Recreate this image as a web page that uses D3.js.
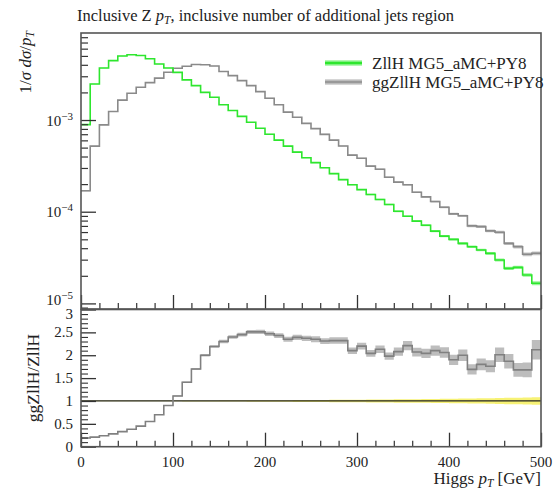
<!DOCTYPE html>
<html>
<head>
<meta charset="utf-8">
<script src="https://cdn.jsdelivr.net/npm/d3@7"></script>
<style>
  html, body { margin: 0; padding: 0; background: #fff; }
  svg text { font-family: "Liberation Serif", "DejaVu Serif", serif; fill: #222; }
</style>
</head>
<body>
<svg id="chart" width="556" height="490"></svg>
<script>
// Bin edges of Higgs pT histogram [GeV]
const binEdges = [0, 10, 20, 30, 40, 50, 60, 70, 80, 90, 100, 110, 120, 130, 140, 150, 160, 170, 180, 190,
  200, 210, 220, 230, 240, 250, 260, 270, 280, 290, 300, 310, 320, 330, 340, 350, 360, 370, 380, 390,
  400, 410, 420, 430, 440, 450, 460, 470, 480, 490, 500];

// Normalised distributions 1/sigma dsigma/dpT
const zllh = [8.9e-4, 2.47e-3, 3.69e-3, 4.44e-3, 4.99e-3, 5.15e-3, 5.06e-3, 4.66e-3, 4.08e-3, 3.69e-3,
  3.31e-3, 2.74e-3, 2.37e-3, 2.00e-3, 1.77e-3, 1.47e-3, 1.27e-3, 1.096e-3, 9.44e-4, 8.13e-4,
  7.00e-4, 6.03e-4, 5.19e-4, 4.47e-4, 3.88e-4, 3.43e-4, 3.02e-4, 2.60e-4, 2.24e-4, 1.97e-4,
  1.74e-4, 1.54e-4, 1.36e-4, 1.20e-4, 1.01e-4, 8.93e-5, 7.89e-5, 7.13e-5, 6.14e-5, 5.42e-5,
  4.99e-5, 4.51e-5, 4.15e-5, 3.82e-5, 3.51e-5, 2.97e-5, 2.41e-5, 2.47e-5, 2.04e-5, 1.66e-5];

const ggzllh = [1.69e-4, 5.19e-4, 8.86e-4, 1.24e-3, 1.65e-3, 1.96e-3, 2.28e-3, 2.56e-3, 2.86e-3, 3.32e-3,
  3.67e-3, 3.86e-3, 4.03e-3, 4.00e-3, 3.88e-3, 3.38e-3, 3.05e-3, 2.69e-3, 2.37e-3, 2.04e-3,
  1.73e-3, 1.47e-3, 1.22e-3, 1.07e-3, 9.20e-4, 8.06e-4, 6.98e-4, 6.03e-4, 5.20e-4, 4.14e-4,
  3.83e-4, 3.14e-4, 2.90e-4, 2.38e-4, 2.10e-4, 1.97e-4, 1.63e-4, 1.45e-4, 1.29e-4, 1.12e-4,
  9.48e-5, 9.02e-5, 7.01e-5, 6.88e-5, 6.18e-5, 5.97e-5, 4.51e-5, 4.15e-5, 3.43e-5, 3.52e-5];

// Ratio ggZllH / ZllH
const ratio = [0.19, 0.21, 0.24, 0.28, 0.33, 0.38, 0.45, 0.55, 0.70, 0.90,
  1.11, 1.41, 1.70, 2.00, 2.19, 2.30, 2.40, 2.45, 2.51, 2.51,
  2.47, 2.43, 2.35, 2.39, 2.37, 2.35, 2.31, 2.32, 2.32, 2.10,
  2.20, 2.04, 2.13, 1.98, 2.08, 2.21, 2.07, 2.04, 2.10, 2.06,
  1.90, 2.00, 1.69, 1.80, 1.76, 2.01, 1.87, 1.68, 1.68, 2.12];

// Relative statistical uncertainties (fraction of bin content)
const zllhRelErr = [0.004, 0.003, 0.003, 0.003, 0.003, 0.003, 0.003, 0.003, 0.003, 0.003,
  0.003, 0.004, 0.004, 0.004, 0.004, 0.005, 0.005, 0.005, 0.006, 0.006,
  0.006, 0.007, 0.007, 0.008, 0.008, 0.009, 0.009, 0.010, 0.010, 0.011,
  0.011, 0.012, 0.012, 0.013, 0.014, 0.014, 0.015, 0.016, 0.017, 0.018,
  0.019, 0.020, 0.021, 0.022, 0.023, 0.025, 0.027, 0.028, 0.030, 0.032];
const ggRelErr = [0.010, 0.006, 0.005, 0.004, 0.004, 0.004, 0.004, 0.004, 0.004, 0.004,
  0.004, 0.004, 0.004, 0.004, 0.004, 0.005, 0.005, 0.005, 0.005, 0.006,
  0.006, 0.006, 0.007, 0.007, 0.007, 0.008, 0.008, 0.009, 0.009, 0.010,
  0.010, 0.011, 0.012, 0.012, 0.013, 0.014, 0.014, 0.015, 0.016, 0.017,
  0.018, 0.019, 0.021, 0.022, 0.023, 0.024, 0.026, 0.028, 0.030, 0.031];

const xTicksMajor = [0, 100, 200, 300, 400, 500];
const xTicksMinor = [20, 40, 60, 80, 120, 140, 160, 180, 220, 240, 260, 280, 320, 340, 360, 380, 420, 440, 460, 480];
const logMajor = [1e-5, 1e-4, 1e-3];
const logMajorLabels = ["\u22125", "\u22124", "\u22123"];
const ratioTicks = [0, 0.5, 1, 1.5, 2, 2.5, 3];
const ratioTickLabels = ["0", "0.5", "1", "1.5", "2", "2.5", "3"];

const svg = d3.select("#chart");
const L = 81, R = 541;
const topY0 = 33, topY1 = 309;
const ratY0 = 309.5, ratY1 = 446.7;

const x = d3.scaleLinear().domain([0, 500]).range([L, R]);
const yTop = d3.scaleLog().domain([Math.pow(10, -5.061), Math.pow(10, -2.051)]).range([topY1, topY0]);
const yRat = d3.scaleLinear().domain([0, 3]).range([ratY1, ratY0]);

const frameColor = "#555";
const tickFont = 15;

// step-curve helpers
function stepPoints(vals) {
  const pts = vals.map((v, i) => ({ x: binEdges[i], v: v, i: i }));
  pts.push({ x: binEdges[vals.length], v: vals[vals.length - 1], i: vals.length - 1 });
  return pts;
}

// clip paths for panels
const defs = svg.append("defs");
defs.append("clipPath").attr("id", "clipTop").append("rect")
  .attr("x", L).attr("y", topY0).attr("width", R - L).attr("height", topY1 - topY0);
defs.append("clipPath").attr("id", "clipRat").append("rect")
  .attr("x", L).attr("y", ratY0).attr("width", R - L).attr("height", ratY1 - ratY0);

// ---------- Top panel ----------
const gTop = svg.append("g").attr("clip-path", "url(#clipTop)");

const series = [
  { vals: ggzllh, err: ggRelErr, line: "#8a8a8a", band: "#c4c4c4" },
  { vals: zllh, err: zllhRelErr, line: "#2ee62e", band: "#9af59a" }
];

series.forEach(s => {
  const pts = stepPoints(s.vals);
  gTop.append("path")
    .attr("d", d3.area().curve(d3.curveStepAfter)
      .x(d => x(d.x))
      .y0(d => yTop(d.v * (1 - 1.5 * s.err[d.i])))
      .y1(d => yTop(d.v * (1 + 1.5 * s.err[d.i])))(pts))
    .attr("fill", s.band).attr("stroke", "none");
  gTop.append("path")
    .attr("d", d3.line().curve(d3.curveStepAfter).x(d => x(d.x)).y(d => yTop(d.v))(pts))
    .attr("fill", "none").attr("stroke", s.line).attr("stroke-width", 1.6);
});

// left axis ticks (log)
const logMinor = [];
[1e-6, 1e-5, 1e-4, 1e-3].forEach(dec => {
  for (let k = 2; k <= 9; k++) {
    const v = k * dec;
    if (v > yTop.domain()[0] && v < yTop.domain()[1]) logMinor.push(v);
  }
});
svg.append("g").attr("transform", `translate(${L},0)`)
  .call(d3.axisRight(yTop).tickValues(logMinor).tickSize(7).tickFormat(""))
  .call(g => g.select(".domain").remove())
  .selectAll("line").attr("stroke", "#333").attr("stroke-width", 1.2);
svg.append("g").attr("transform", `translate(${L},0)`)
  .call(d3.axisRight(yTop).tickValues(logMajor).tickSize(15).tickFormat(""))
  .call(g => g.select(".domain").remove())
  .selectAll("line").attr("stroke", "#333").attr("stroke-width", 1.3);

// log tick labels 10^n (lowest one sits just above the panel edge)
logMajor.forEach((v, i) => {
  const base = i === 0 ? yTop(v) + 1.5 : yTop(v) + 5.5;
  const t = svg.append("text").attr("x", 73).attr("y", base)
    .attr("text-anchor", "end").attr("font-size", tickFont);
  t.append("tspan").text("10");
  t.append("tspan").attr("dy", -6).attr("font-size", 11).text(logMajorLabels[i]);
});

// bottom ticks of top panel
svg.append("g").attr("transform", `translate(0,${topY1})`)
  .call(d3.axisTop(x).tickValues(xTicksMinor).tickSize(6).tickFormat(""))
  .call(g => g.select(".domain").remove())
  .selectAll("line").attr("stroke", "#333").attr("stroke-width", 1.2);
svg.append("g").attr("transform", `translate(0,${topY1})`)
  .call(d3.axisTop(x).tickValues(xTicksMajor).tickSize(14).tickFormat(""))
  .call(g => g.select(".domain").remove())
  .selectAll("line").attr("stroke", "#333").attr("stroke-width", 1.3);

// top frame
svg.append("rect").attr("x", L).attr("y", topY0).attr("width", R - L).attr("height", topY1 - topY0)
  .attr("fill", "none").attr("stroke", frameColor).attr("stroke-width", 1.6);

// legend
const legend = [
  { label: "ZllH MG5_aMC+PY8", line: "#2ee62e", band: "#9af59a", y: 63 },
  { label: "ggZllH MG5_aMC+PY8", line: "#999999", band: "#c8c8c8", y: 82 }
];
legend.forEach(d => {
  svg.append("line").attr("x1", 325).attr("x2", 362).attr("y1", d.y).attr("y2", d.y)
    .attr("stroke", d.band).attr("stroke-width", 5.5);
  svg.append("line").attr("x1", 325).attr("x2", 362).attr("y1", d.y).attr("y2", d.y)
    .attr("stroke", d.line).attr("stroke-width", 2.5);
  svg.append("text").attr("x", 372).attr("y", d.y + 5.5).attr("font-size", 17).text(d.label);
});

// ---------- Ratio panel ----------
const gRat = svg.append("g").attr("clip-path", "url(#clipRat)");
const ones = zllh.map(() => 1);
const ratPtsRef = stepPoints(ones);
gRat.append("path")
  .attr("d", d3.area().curve(d3.curveStepAfter)
    .x(d => x(d.x))
    .y0(d => yRat(1 - 2.6 * zllhRelErr[d.i]))
    .y1(d => yRat(1 + 2.6 * zllhRelErr[d.i]))(ratPtsRef))
  .attr("fill", "#f6f166").attr("opacity", 0.9).attr("stroke", "none");
gRat.append("path")
  .attr("d", d3.line().curve(d3.curveStepAfter).x(d => x(d.x)).y(d => yRat(d.v))(ratPtsRef))
  .attr("fill", "none").attr("stroke", "#222").attr("stroke-width", 1.3);

const ratPts = stepPoints(ratio);
gRat.append("path")
  .attr("d", d3.area().curve(d3.curveStepAfter)
    .x(d => x(d.x))
    .y0(d => yRat(d.v * (1 - 1.6 * (ggRelErr[d.i] + zllhRelErr[d.i]))))
    .y1(d => yRat(d.v * (1 + 1.6 * (ggRelErr[d.i] + zllhRelErr[d.i]))))(ratPts))
  .attr("fill", "#bdbdbd").attr("stroke", "none");
gRat.append("path")
  .attr("d", d3.line().curve(d3.curveStepAfter).x(d => x(d.x)).y(d => yRat(d.v))(ratPts))
  .attr("fill", "none").attr("stroke", "#808080").attr("stroke-width", 1.6);

// ratio left ticks
const ratMinor = [];
for (let k = 1; k < 30; k++) if (k % 5 !== 0) ratMinor.push(k / 10);
svg.append("g").attr("transform", `translate(${L},0)`)
  .call(d3.axisRight(yRat).tickValues(ratMinor).tickSize(7).tickFormat(""))
  .call(g => g.select(".domain").remove())
  .selectAll("line").attr("stroke", "#333").attr("stroke-width", 1.1);
svg.append("g").attr("transform", `translate(${L},0)`)
  .call(d3.axisRight(yRat).tickValues(ratioTicks).tickSize(15).tickFormat(""))
  .call(g => g.select(".domain").remove())
  .selectAll("line").attr("stroke", "#333").attr("stroke-width", 1.3);
ratioTicks.forEach((v, i) => {
  const base = v === 3 ? yRat(v) + 9 : yRat(v) + 5;
  svg.append("text").attr("x", 73).attr("y", base)
    .attr("text-anchor", "end").attr("font-size", tickFont).text(ratioTickLabels[i]);
});

// ratio bottom ticks
svg.append("g").attr("transform", `translate(0,${ratY1})`)
  .call(d3.axisTop(x).tickValues(xTicksMinor).tickSize(6).tickFormat(""))
  .call(g => g.select(".domain").remove())
  .selectAll("line").attr("stroke", "#333").attr("stroke-width", 1.2);
svg.append("g").attr("transform", `translate(0,${ratY1})`)
  .call(d3.axisTop(x).tickValues(xTicksMajor).tickSize(14).tickFormat(""))
  .call(g => g.select(".domain").remove())
  .selectAll("line").attr("stroke", "#333").attr("stroke-width", 1.3);
xTicksMajor.forEach(v => {
  svg.append("text").attr("x", x(v)).attr("y", 467).attr("text-anchor", "middle")
    .attr("font-size", tickFont).text(v);
});

svg.append("rect").attr("x", L).attr("y", ratY0).attr("width", R - L).attr("height", ratY1 - ratY0)
  .attr("fill", "none").attr("stroke", frameColor).attr("stroke-width", 1.6);

// ---------- Titles ----------
const title = svg.append("text").attr("x", 77).attr("y", 21).attr("font-size", 16.5);
title.append("tspan").text("Inclusive Z ");
title.append("tspan").attr("font-style", "italic").text("p");
title.append("tspan").attr("font-style", "italic").attr("font-size", 11.5).attr("dy", 3).text("T");
title.append("tspan").attr("dy", -3).text(", inclusive number of additional jets region");

const yt = svg.append("text").attr("transform", "translate(31,31) rotate(-90)")
  .attr("text-anchor", "end").attr("font-size", 17);
yt.append("tspan").text("1/");
yt.append("tspan").attr("font-style", "italic").text("\u03c3 d\u03c3");
yt.append("tspan").text("/");
yt.append("tspan").attr("font-style", "italic").text("p");
yt.append("tspan").attr("font-style", "italic").attr("font-size", 11.5).attr("dy", 3).text("T");

svg.append("text").attr("transform", "translate(39,378) rotate(-90)")
  .attr("text-anchor", "middle").attr("font-size", 17.5).text("ggZllH/ZllH");

const xt = svg.append("text").attr("x", 541).attr("y", 484).attr("text-anchor", "end").attr("font-size", 17);
xt.append("tspan").text("Higgs ");
xt.append("tspan").attr("font-style", "italic").text("p");
xt.append("tspan").attr("font-style", "italic").attr("font-size", 11.5).attr("dy", 3).text("T");
xt.append("tspan").attr("dy", -3).text(" [GeV]");
</script>
</body>
</html>
